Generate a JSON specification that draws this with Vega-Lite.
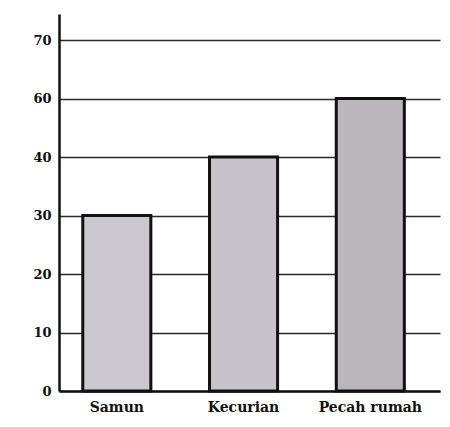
{
  "$schema": "https://vega.github.io/schema/vega-lite/v6.json",
  "width": 381,
  "height": 377,
  "autosize": "none",
  "padding": {"left": 59, "top": 14, "right": 10, "bottom": 36},
  "background": "white",
  "config": {"view": {"stroke": null}},
  "data": {"values": [
    {"jenis": "Samun", "nilai": 30},
    {"jenis": "Kecurian", "nilai": 40},
    {"jenis": "Pecah rumah", "nilai": 60}
  ]},
  "mark": {"type": "bar", "stroke": "#111111", "strokeWidth": 3},
  "encoding": {
    "x": {
      "field": "jenis", "type": "nominal", "sort": null,
      "scale": {"paddingInner": 0.463, "paddingOuter": 0.2345, "align": 0.4},
      "axis": {"title": null, "labelAngle": 0, "ticks": false, "domainColor": "#111111", "domainWidth": 2.5,
        "labelFont": "DejaVu Serif", "labelFontWeight": "bold", "labelFontSize": 14, "labelColor": "#111111", "labelPadding": 9}
    },
    "y": {
      "field": "nilai", "type": "quantitative",
      "scale": {"domain": [0, 40, 60, 70, 75], "range": [377, 143, 84.5, 26, 0], "nice": false, "zero": false},
      "axis": {"title": null, "values": [0, 10, 20, 30, 40, 60, 70], "ticks": false, "domainColor": "#111111", "domainWidth": 2.5,
        "grid": true, "gridColor": "#2a2a2a", "gridWidth": 1.5,
        "labelFont": "DejaVu Serif", "labelFontWeight": "bold", "labelFontSize": 13, "labelColor": "#111111", "labelPadding": 8}
    },
    "color": {
      "field": "jenis", "type": "nominal", "sort": null, "legend": null,
      "scale": {"domain": ["Samun", "Kecurian", "Pecah rumah"], "range": ["#cbc7cf", "#c6c2ca", "#bab6bb"]}
    }
  }
}
